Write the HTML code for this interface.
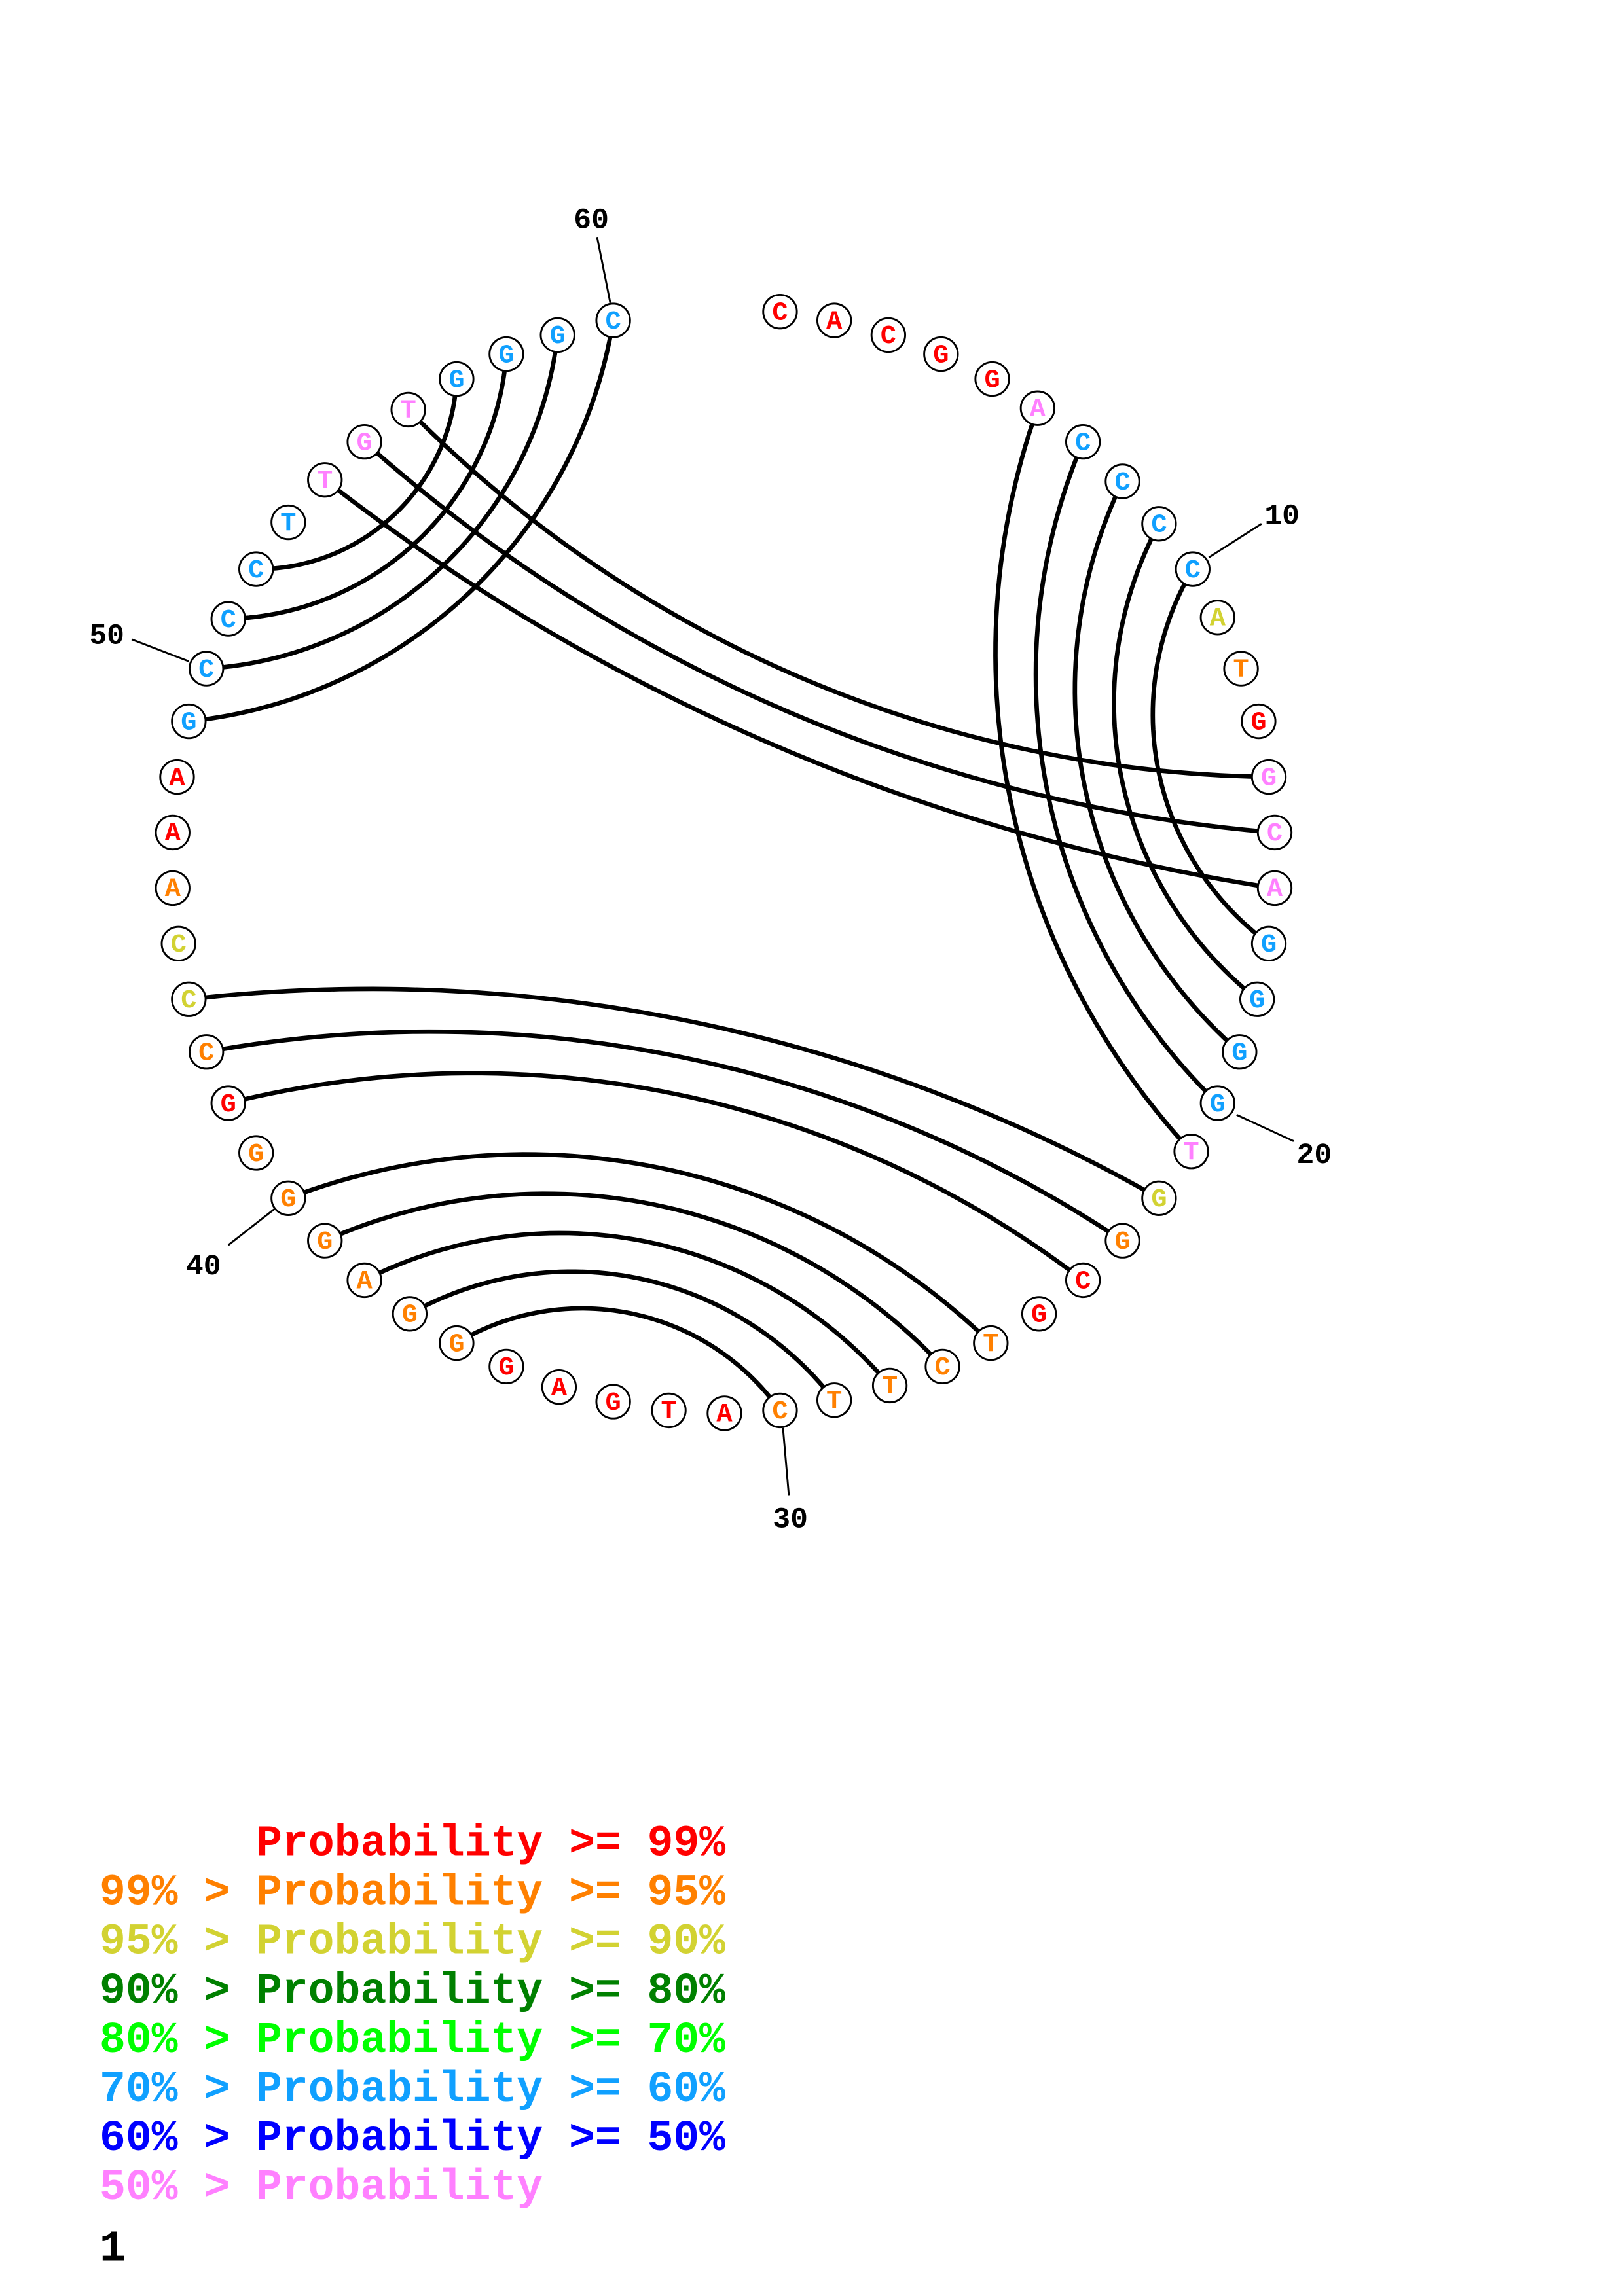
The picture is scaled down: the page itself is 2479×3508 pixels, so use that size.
<!DOCTYPE html>
<html><head><meta charset="utf-8"><style>
html,body{margin:0;padding:0;background:#fff;}
svg{display:block;}
</style></head><body>
<svg id="s" width="2479" height="3508" viewBox="0 0 1109 1569.3" xmlns="http://www.w3.org/2000/svg">
<rect width="1109" height="1570" fill="#fff"/>
<g id="arcs" fill="none" stroke="#000" stroke-width="3"></g>
<g stroke="#000" stroke-width="1.3">
<line x1="826" y1="381" x2="862" y2="358"/>
<line x1="845" y1="762" x2="884" y2="780"/>
<line x1="535" y1="976" x2="539" y2="1022"/>
<line x1="188" y1="826" x2="156" y2="851"/>
<line x1="129" y1="452" x2="90" y2="437"/>
<line x1="417" y1="207" x2="408" y2="162"/>
</g>
<g font-family="Liberation Mono, monospace" font-weight="bold" font-size="20" fill="#000" text-anchor="middle">
<text x="876" y="358">10</text>
<text x="898" y="795">20</text>
<text x="540" y="1044">30</text>
<text x="139" y="871">40</text>
<text x="73" y="440">50</text>
<text x="404" y="156">60</text>
</g>
<g id="nucs"></g>
<g font-family="Liberation Mono, monospace" font-weight="bold" font-size="29.7">
<text x="175" y="1268" fill="#ff0000">Probability &gt;= 99%</text>
<text x="68" y="1301.6" fill="#ff8000">99% &gt; Probability &gt;= 95%</text>
<text x="68" y="1335.2" fill="#d2d232">95% &gt; Probability &gt;= 90%</text>
<text x="68" y="1368.8" fill="#008000">90% &gt; Probability &gt;= 80%</text>
<text x="68" y="1402.4" fill="#00ff00">80% &gt; Probability &gt;= 70%</text>
<text x="68" y="1436" fill="#10a0ff">70% &gt; Probability &gt;= 60%</text>
<text x="68" y="1469.6" fill="#0000ff">60% &gt; Probability &gt;= 50%</text>
<text x="68" y="1503.2" fill="#ff80ff">50% &gt; Probability</text>
<text x="68" y="1545" fill="#000">1</text>
</g>
</svg>
<script>
var R='#ff0000',O='#ff8000',Y='#d2d232',B='#10a0ff',P='#ff80ff';
var N=[
['C',533,213,R],['A',570,219,R],['C',607,229,R],['G',643,242,R],['G',678,259,R],['A',709,279,P],
['C',740,302,B],['C',767,329,B],['C',792,358,B],['C',815,389,B],['A',832,422,Y],['T',848,457,O],
['G',860,493,R],['G',867,531,P],['C',871,569,P],['A',871,607,P],['G',867,645,B],['G',859,683,B],
['G',847,719,B],['G',832,754,B],['T',814,787,P],['G',792,819,Y],['G',767,848,O],['C',740,875,R],
['G',710,898,R],['T',677,918,O],['C',644,934,O],['T',608,947,O],['T',570,957,O],['C',533,964,O],
['A',495,966,R],['T',457,964,R],['G',419,958,R],['A',382,948,R],['G',346,934,R],['G',312,918,O],
['G',280,898,O],['A',249,875,O],['G',222,848,O],['G',197,819,O],['G',175,788,O],['G',156,754,R],
['C',141,719,O],['C',129,683,Y],['C',122,645,Y],['A',118,607,O],['A',118,569,R],['A',121,531,R],
['G',129,493,B],['C',141,457,B],['C',156,423,B],['C',175,389,B],['T',197,357,B],['T',222,328,P],
['G',249,302,P],['T',279,280,P],['G',312,259,B],['G',346,242,B],['G',381,229,B],['C',419,219,B]];
var pairs=[[6,21],[7,20],[8,19],[9,18],[10,17],[14,56],[15,55],[16,54],[49,60],[50,59],[51,58],[52,57],
[44,22],[43,23],[42,24],[40,26],[39,27],[38,28],[37,29],[36,30]];
var ox=494,oy=590,RR=377,ns='http://www.w3.org/2000/svg';
var ag=document.getElementById('arcs');
pairs.forEach(function(pq){
 var a=N[pq[0]-1],b=N[pq[1]-1];
 var ax=a[1]-ox,ay=a[2]-oy,bx=b[1]-ox,by=b[2]-oy;
 var c=(ax*bx+ay*by)/Math.hypot(ax,ay)/Math.hypot(bx,by);
 var th=Math.acos(Math.max(-1,Math.min(1,c)));
 var r=1.4*RR*Math.tan(th/2);
 var mx=(a[1]+b[1])/2,my=(a[2]+b[2])/2,h=Math.hypot(b[1]-a[1],b[2]-a[2])/2;
 if(r<h*1.01)r=h*1.01;
 var d=Math.sqrt(r*r-h*h);
 var nx=-(b[2]-a[2]),ny=(b[1]-a[1]);var nl=Math.hypot(nx,ny);nx/=nl;ny/=nl;
 if(nx*(mx-ox)+ny*(my-oy)<0){nx=-nx;ny=-ny;}
 var cx=mx+nx*d,cy=my+ny*d;
 var a0=Math.atan2(a[2]-cy,a[1]-cx),a1=Math.atan2(b[2]-cy,b[1]-cx);
 var da=a1-a0;while(da>Math.PI)da-=2*Math.PI;while(da<-Math.PI)da+=2*Math.PI;
 var s='';for(var i=0;i<=60;i++){var t=a0+da*i/60;s+=(i?'L':'M')+(cx+r*Math.cos(t)).toFixed(2)+' '+(cy+r*Math.sin(t)).toFixed(2);}
 var p=document.createElementNS(ns,'path');p.setAttribute('d',s);ag.appendChild(p);
});
var g=document.getElementById('nucs');
N.forEach(function(n){
 var ci=document.createElementNS(ns,'circle');ci.setAttribute('cx',n[1]);ci.setAttribute('cy',n[2]);ci.setAttribute('r',11.5);
 ci.setAttribute('fill','#fff');ci.setAttribute('stroke','#000');ci.setAttribute('stroke-width','1.3');g.appendChild(ci);
 var t=document.createElementNS(ns,'text');t.setAttribute('x',n[1]);t.setAttribute('y',n[2]+5.5);t.setAttribute('text-anchor','middle');
 t.setAttribute('font-family','Liberation Mono, monospace');t.setAttribute('font-weight','bold');t.setAttribute('font-size','18');
 t.setAttribute('fill',n[3]);t.textContent=n[0];g.appendChild(t);
});
</script>
</body></html>
